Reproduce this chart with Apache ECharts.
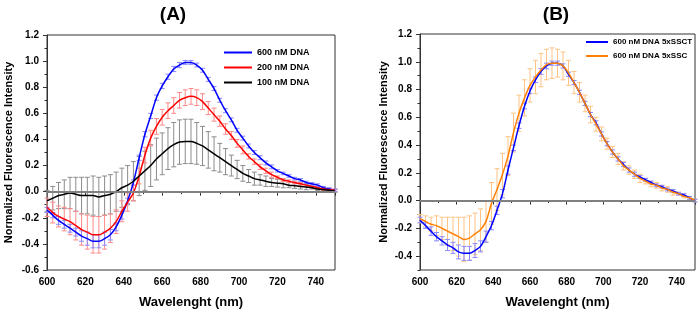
<!DOCTYPE html>
<html>
<head>
<meta charset="utf-8">
<script src="https://cdn.jsdelivr.net/npm/echarts@6/dist/echarts.min.js"></script>
<style>
html, body { margin: 0; padding: 0; background: #fff; }
#chart { width: 700px; height: 312px; }
</style>
</head>
<body>
<div id="chart"></div>
<script>
var wavelength = [600,603,606,609,612,615,618,621,624,627,630,633,636,639,642,645,648,651,654,657,660,663,666,669,672,675,678,681,684,687,690,693,696,699,702,705,708,711,714,717,720,723,726,729,732,735,738,741,744,747,750];

// panel A
var dna600 = [-0.14,-0.18,-0.22,-0.25,-0.28,-0.31,-0.34,-0.36,-0.38,-0.38,-0.36,-0.33,-0.27,-0.18,-0.07,0.07,0.26,0.44,0.58,0.72,0.81,0.88,0.94,0.97,0.99,0.99,0.97,0.93,0.86,0.79,0.70,0.62,0.55,0.47,0.41,0.35,0.30,0.26,0.22,0.19,0.16,0.14,0.12,0.10,0.09,0.07,0.06,0.05,0.03,0.02,0.01];
var dna600Err = [0.02,0.02,0.03,0.03,0.03,0.03,0.04,0.05,0.05,0.05,0.05,0.04,0.03,0.03,0.02,0.02,0.02,0.02,0.02,0.02,0.02,0.02,0.02,0.02,0.015,0.015,0.015,0.015,0.015,0.015,0.015,0.015,0.015,0.015,0.015,0.015,0.015,0.015,0.015,0.015,0.01,0.01,0.01,0.01,0.01,0.01,0.01,0.01,0.01,0.01,0.01];
var dna200 = [-0.12,-0.16,-0.19,-0.21,-0.23,-0.26,-0.29,-0.31,-0.33,-0.33,-0.31,-0.28,-0.23,-0.15,-0.08,-0.01,0.12,0.28,0.41,0.50,0.57,0.62,0.66,0.70,0.72,0.73,0.72,0.69,0.64,0.59,0.54,0.48,0.43,0.37,0.32,0.27,0.23,0.19,0.16,0.13,0.11,0.09,0.08,0.07,0.06,0.05,0.04,0.03,0.02,0.015,0.01];
var dna200Err = [0.07,0.08,0.08,0.09,0.10,0.11,0.12,0.13,0.14,0.14,0.13,0.11,0.09,0.08,0.07,0.06,0.06,0.06,0.06,0.06,0.06,0.06,0.06,0.06,0.06,0.06,0.06,0.06,0.05,0.05,0.04,0.04,0.03,0.03,0.03,0.02,0.02,0.02,0.02,0.02,0.01,0.01,0.01,0.01,0.01,0.01,0.01,0.01,0.01,0.01,0.01];
var dna100 = [-0.07,-0.05,-0.03,-0.02,-0.01,-0.02,-0.03,-0.03,-0.03,-0.04,-0.03,-0.02,0.00,0.03,0.05,0.08,0.12,0.16,0.20,0.25,0.29,0.33,0.36,0.38,0.385,0.385,0.37,0.35,0.32,0.29,0.26,0.23,0.20,0.17,0.14,0.12,0.10,0.09,0.08,0.07,0.065,0.06,0.05,0.045,0.04,0.035,0.03,0.02,0.015,0.01,0.005];
var dna100Err = [0.08,0.09,0.10,0.11,0.12,0.13,0.14,0.14,0.15,0.15,0.15,0.15,0.15,0.15,0.15,0.15,0.15,0.15,0.16,0.16,0.16,0.16,0.17,0.17,0.17,0.17,0.16,0.15,0.14,0.13,0.11,0.10,0.08,0.07,0.06,0.05,0.05,0.04,0.04,0.03,0.03,0.03,0.02,0.02,0.02,0.02,0.01,0.01,0.01,0.01,0.01];

// panel B
var sscT = [-0.14,-0.18,-0.22,-0.26,-0.29,-0.32,-0.34,-0.37,-0.38,-0.38,-0.36,-0.33,-0.26,-0.18,-0.07,0.05,0.22,0.38,0.54,0.68,0.79,0.87,0.93,0.97,0.99,0.99,0.97,0.91,0.85,0.78,0.70,0.62,0.56,0.48,0.41,0.35,0.30,0.26,0.22,0.19,0.17,0.15,0.13,0.11,0.10,0.08,0.07,0.05,0.04,0.02,0.00];
var sscTErr = [0.02,0.02,0.03,0.03,0.03,0.04,0.04,0.05,0.05,0.05,0.05,0.04,0.04,0.03,0.03,0.03,0.03,0.02,0.02,0.02,0.02,0.02,0.02,0.02,0.015,0.015,0.015,0.015,0.015,0.015,0.015,0.015,0.015,0.015,0.015,0.015,0.015,0.015,0.015,0.015,0.01,0.01,0.01,0.01,0.01,0.01,0.01,0.01,0.01,0.01,0.01];
var ssc = [-0.13,-0.15,-0.17,-0.18,-0.20,-0.22,-0.24,-0.26,-0.28,-0.27,-0.24,-0.21,-0.15,-0.02,0.08,0.19,0.32,0.49,0.63,0.74,0.83,0.89,0.94,0.98,0.99,0.99,0.97,0.92,0.85,0.78,0.70,0.62,0.55,0.48,0.41,0.35,0.30,0.25,0.22,0.19,0.16,0.14,0.12,0.11,0.09,0.08,0.06,0.05,0.03,0.02,0.00];
var sscErr = [0.03,0.04,0.05,0.07,0.08,0.10,0.12,0.14,0.16,0.16,0.15,0.15,0.15,0.15,0.15,0.15,0.14,0.14,0.13,0.13,0.12,0.12,0.12,0.11,0.11,0.10,0.10,0.09,0.08,0.07,0.06,0.06,0.05,0.05,0.04,0.04,0.04,0.03,0.03,0.03,0.03,0.02,0.02,0.02,0.02,0.02,0.02,0.01,0.01,0.01,0.01];

var yTicksB = [-0.4,-0.2,0,0.2,0.4,0.6,0.8,1.0,1.2];
var yMinorB = [-0.5,-0.3,-0.1,0.1,0.3,0.5,0.7,0.9,1.1];

var font = "Liberation Sans, Arial, sans-serif";
var frame = "#333";

function pairs(y) {
    return wavelength.map(function (x, i) { return [x, y[i]]; });
}

function errorBars(name, idx, y, e, color) {
    return {
        type: "custom", name: name, xAxisIndex: idx, yAxisIndex: idx, silent: true, z: 1,
        data: wavelength.map(function (x, i) { return [x, y[i] - e[i], y[i] + e[i]]; }),
        encode: { x: 0, y: [1, 2] },
        renderItem: function (params, api) {
            var lo = api.coord([api.value(0), api.value(1)]);
            var hi = api.coord([api.value(0), api.value(2)]);
            var w = 2.5, st = { stroke: color, lineWidth: 1 };
            return { type: "group", children: [
                { type: "line", shape: { x1: lo[0], y1: lo[1], x2: hi[0], y2: hi[1] }, style: st },
                { type: "line", shape: { x1: lo[0] - w, y1: lo[1], x2: lo[0] + w, y2: lo[1] }, style: st },
                { type: "line", shape: { x1: hi[0] - w, y1: hi[1], x2: hi[0] + w, y2: hi[1] }, style: st }
            ]};
        }
    };
}

function curve(name, idx, y, color, zero) {
    var s = {
        type: "line", name: name, xAxisIndex: idx, yAxisIndex: idx, data: pairs(y),
        symbol: "none", smooth: 0.3, z: 3,
        lineStyle: { color: color, width: 1.5 }, itemStyle: { color: color }
    };
    if (zero) {
        s.markLine = {
            silent: true, symbol: "none", label: { show: false },
            lineStyle: { color: "#808080", width: 2, type: "solid" },
            data: [{ yAxis: 0 }]
        };
    }
    return s;
}

function xAxis(idx) {
    return {
        type: "value", gridIndex: idx, min: 600, max: 750, interval: 20,
        name: "Wavelenght (nm)", nameLocation: "middle", nameGap: 26,
        nameTextStyle: { fontFamily: font, fontWeight: "bold", fontSize: 13, color: "#000" },
        axisLine: { lineStyle: { color: frame, width: 1 } },
        axisTick: { length: 4, lineStyle: { color: frame } },
        minorTick: { show: true, splitNumber: 2, length: 2.5, lineStyle: { color: frame } },
        axisLabel: { showMaxLabel: false, fontFamily: font, fontWeight: "bold", fontSize: 10, color: "#000", margin: 7 },
        splitLine: { show: false }
    };
}

var yName = {
    name: "Normalized Fluorescence Intensity", nameLocation: "middle",
    nameTextStyle: { fontFamily: font, fontWeight: "bold", fontSize: 11, color: "#000" }
};

var legendText = { fontFamily: font, fontWeight: "bold", fontSize: 9, color: "#000" };

var chart = echarts.init(document.getElementById("chart"));
var option = {
    animation: false,
    graphic: [
        { type: "text", x: 173, y: 15, style: { text: "(A)", font: "bold 19px " + font, fill: "#000", align: "center", verticalAlign: "middle" } },
        { type: "text", x: 556, y: 15, style: { text: "(B)", font: "bold 19px " + font, fill: "#000", align: "center", verticalAlign: "middle" } }
    ],
    grid: [
        { left: 47, right: 365, top: 35, bottom: 42, show: true, borderColor: frame, borderWidth: 1, outerBoundsMode: "none" },
        { left: 420, right: 5, top: 34, bottom: 42, show: true, borderColor: frame, borderWidth: 1, outerBoundsMode: "none" }
    ],
    legend: [
        { orient: "vertical", left: 224, top: 48, padding: 0, icon: "rect", itemWidth: 28, itemHeight: 2, itemGap: 6,
          data: ["600 nM DNA", "200 nM DNA", "100 nM DNA"], textStyle: legendText },
        { orient: "vertical", left: 586, top: 38, padding: 0, icon: "rect", itemWidth: 22, itemHeight: 2, itemGap: 6,
          data: ["600 nM DNA 5xSSCT", "600 nM DNA 5xSSC"], textStyle: Object.assign({}, legendText, { fontSize: 8 }) }
    ],
    xAxis: [xAxis(0), xAxis(1)],
    yAxis: [
        Object.assign({
            type: "value", gridIndex: 0, min: -0.6, max: 1.2, interval: 0.2, nameGap: 33,
            axisLine: { show: true, lineStyle: { color: frame } },
            axisTick: { show: true, length: 4, lineStyle: { color: frame } },
            minorTick: { show: true, splitNumber: 2, length: 2.5, lineStyle: { color: frame } },
            axisLabel: { fontFamily: font, fontWeight: "bold", fontSize: 10, color: "#000", margin: 8,
                formatter: function (v) { return v.toFixed(1); } },
            splitLine: { show: false }
        }, yName),
        Object.assign({
            type: "value", gridIndex: 1, min: -0.5, max: 1.2, interval: 0.1, nameGap: 31,
            axisLine: { show: true, lineStyle: { color: frame } },
            axisTick: { show: true, length: 4, customValues: yTicksB, lineStyle: { color: frame } },
            axisLabel: { fontFamily: font, fontWeight: "bold", fontSize: 10, color: "#000", margin: 8,
                customValues: yTicksB, formatter: function (v) { return v.toFixed(1); } },
            splitLine: { show: false }
        }, yName),
        {
            type: "value", gridIndex: 1, position: "left", offset: 0, min: -0.5, max: 1.2, interval: 0.1,
            axisLine: { show: false },
            axisTick: { show: true, length: 2.5, customValues: yMinorB, lineStyle: { color: frame } },
            axisLabel: { show: false }, splitLine: { show: false }
        }
    ],
    series: [
        errorBars("e100", 0, dna100, dna100Err, "#8c8c8c"),
        errorBars("e200", 0, dna200, dna200Err, "#ff8a8a"),
        errorBars("e600", 0, dna600, dna600Err, "#8a8aff"),
        curve("600 nM DNA", 0, dna600, "#0000ff", true),
        curve("200 nM DNA", 0, dna200, "#ff0000"),
        curve("100 nM DNA", 0, dna100, "#000000"),
        errorBars("essc", 1, ssc, sscErr, "#ffc384"),
        errorBars("essct", 1, sscT, sscTErr, "#8a8aff"),
        curve("600 nM DNA 5xSSCT", 1, sscT, "#0000ff", true),
        curve("600 nM DNA 5xSSC", 1, ssc, "#ff8000")
    ]
};
chart.setOption(option);
</script>
</body>
</html>
